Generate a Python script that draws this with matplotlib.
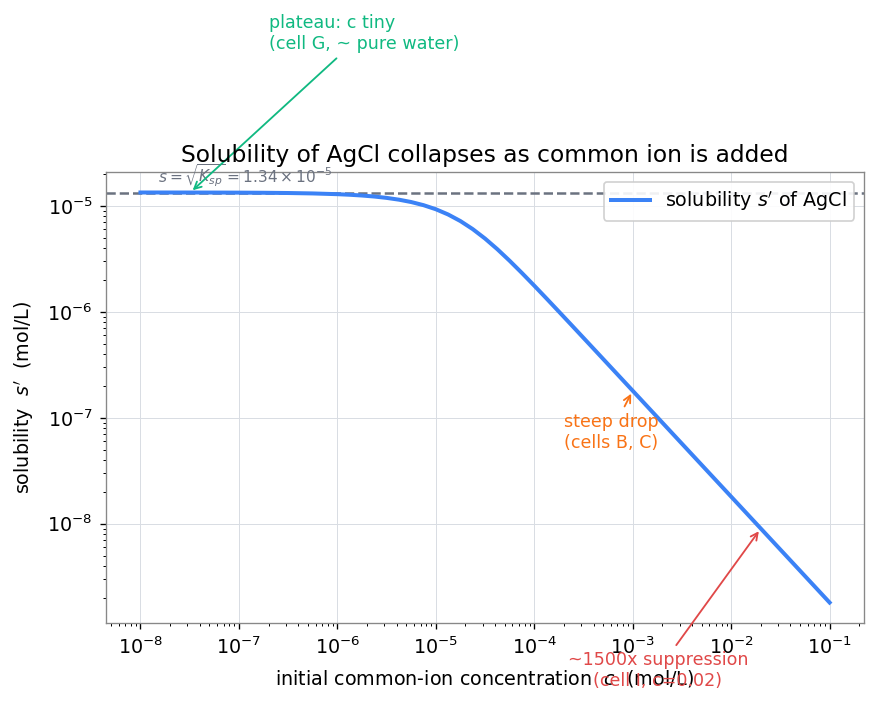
import matplotlib
matplotlib.use("Agg")
import matplotlib.pyplot as plt

# Data: initial common-ion concentration c (mol/L) and solubility s' (mol/L)
c_vals = [1.0e-8, 1.778e-8, 3.162e-8, 5.623e-8, 1.0e-7, 1.778e-7, 3.162e-7, 5.623e-7,
          1.0e-6, 1.3335e-6, 1.778e-6, 2.3714e-6, 3.162e-6, 4.2170e-6, 5.623e-6, 7.4989e-6,
          1.0e-5, 1.3335e-5, 1.778e-5, 2.3714e-5, 3.162e-5, 4.2170e-5, 5.623e-5, 7.4989e-5,
          1.0e-4, 1.3335e-4, 1.778e-4, 2.3714e-4, 3.162e-4, 4.2170e-4, 5.623e-4,
          1.0e-3, 1.778e-3, 3.162e-3, 5.623e-3,
          1.0e-2, 1.778e-2, 3.162e-2, 5.623e-2, 1.0e-1]
s_vals = [1.3411e-5, 1.3407e-5, 1.3400e-5, 1.3388e-5, 1.3366e-5, 1.3327e-5, 1.3259e-5, 1.3138e-5,
          1.2926e-5, 1.2766e-5, 1.2557e-5, 1.2283e-5, 1.1928e-5, 1.1473e-5, 1.0896e-5, 1.0181e-5,
          9.318e-6, 8.314e-6, 7.204e-6, 6.048e-6, 4.925e-6, 3.907e-6, 3.037e-6, 2.328e-6,
          1.7687e-6, 1.3364e-6, 1.0065e-6, 7.566e-7, 5.682e-7, 4.264e-7, 3.1993e-7,
          1.7997e-7, 1.0123e-7, 5.692e-8, 3.201e-8,
          1.80e-8, 1.0122e-8, 5.692e-9, 3.201e-9, 1.80e-9]
s_pure = 1.34e-5

plateau_pt = (3.2e-8, 1.34e-5)
steep_pt = (1.0e-3, 1.8e-7)
suppress_pt = (2.0e-2, 9.0e-9)

fig = plt.figure(figsize=(879 / 120, 704 / 120), dpi=120)
ax = fig.add_axes([0.1206, 0.115, 0.8624, 0.6407])

ax.plot(c_vals, s_vals, color="#3b82f6", lw=2.4, label="solubility $s'$ of AgCl", zorder=3)
ax.set_xscale("log")
ax.set_yscale("log")
ax.axhline(s_pure, color="#6b7280", ls="--", lw=1.5, zorder=2)
ax.text(1.5e-8, s_pure * 1.08, r"$s=\sqrt{K_{sp}}=1.34\times10^{-5}$", color="#6b7280",
        fontsize=9.2, ha="left", va="bottom")

ax.grid(True, which="major", color="#d9dde3", lw=0.6)
ax.set_axisbelow(True)
for sp in ax.spines.values():
    sp.set_color("#888888")

ax.tick_params(labelsize=11.5, pad=4.5)
ax.set_xticks([1e-8, 1e-7, 1e-6, 1e-5, 1e-4, 1e-3, 1e-2, 1e-1])
ax.set_title("Solubility of AgCl collapses as common ion is added", fontsize=14)
ax.set_xlabel("initial common-ion concentration  $c$  (mol/L)", fontsize=11.5, labelpad=6)
ax.set_ylabel("solubility  $s'$  (mol/L)", fontsize=11.5, labelpad=7)

ax.annotate("plateau: c tiny\n(cell G, ~ pure water)", xy=plateau_pt, xytext=(2.0e-7, 2.8e-4),
            color="#10b981", fontsize=10.5, ha="left", va="bottom", annotation_clip=False,
            arrowprops=dict(arrowstyle="->", color="#10b981", lw=1.1))
ax.annotate("steep drop\n(cells B, C)", xy=steep_pt, xytext=(2.0e-4, 4.8e-8),
            color="#f97316", fontsize=10.5, ha="left", va="bottom",
            arrowprops=dict(arrowstyle="->", color="#f97316", lw=1.1))
ax.annotate("~1500x suppression\n(cell I, c=0.02)", xy=suppress_pt, xytext=(1.8e-3, 4.1e-10),
            color="#e04848", fontsize=10.5, ha="center", va="center", annotation_clip=False,
            arrowprops=dict(arrowstyle="->", color="#e04848", lw=1.1))

ax.legend(loc="upper right", fontsize=11.5, framealpha=0.9)

fig.savefig("out.png", dpi=120)
